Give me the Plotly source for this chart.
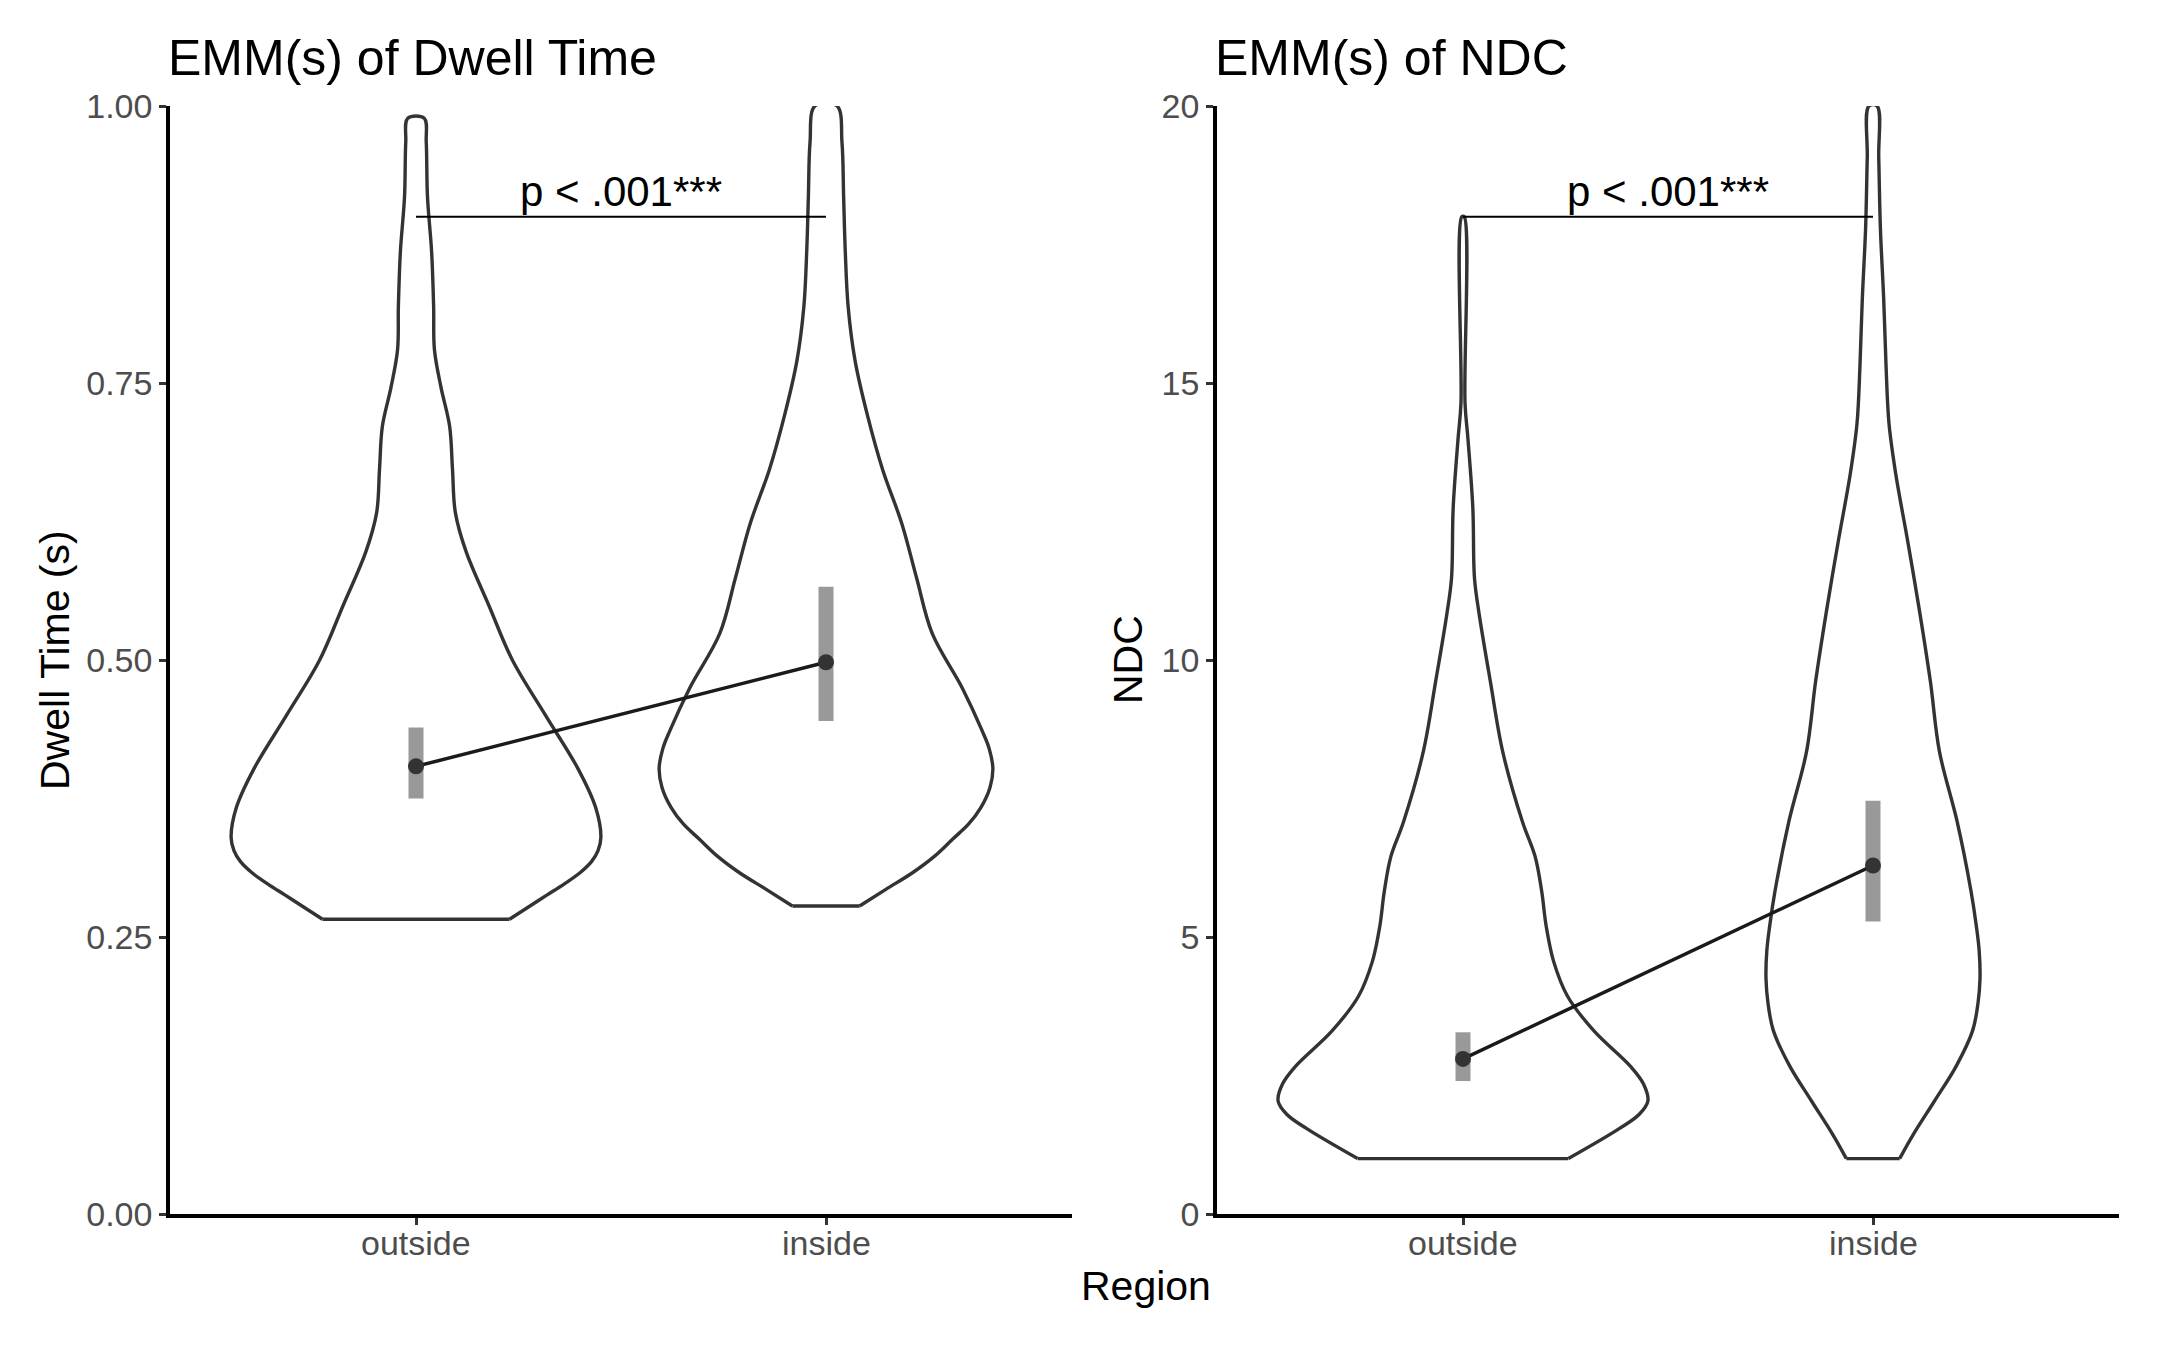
import plotly.graph_objects as go

# ---------------- data ----------------
regions = ["outside", "inside"]
region_pos = [1, 2]

# violin outlines: value levels and half-widths (x units)
dwell_out_y = [0.266, 0.278, 0.288, 0.298, 0.308, 0.318, 0.328, 0.340, 0.367, 0.402, 0.450,
               0.500, 0.549, 0.598, 0.633, 0.672, 0.711, 0.746, 0.780, 0.819, 0.869, 0.918,
               0.967, 0.989]
dwell_out_hw = [0.228, 0.278, 0.320, 0.362, 0.400, 0.428, 0.444, 0.451, 0.438, 0.395, 0.316,
                0.235, 0.178, 0.122, 0.096, 0.089, 0.082, 0.061, 0.045, 0.043, 0.038, 0.028,
                0.025, 0.020]

dwell_in_y = [0.278, 0.293, 0.308, 0.323, 0.338, 0.352, 0.367, 0.385, 0.402, 0.420, 0.436,
              0.475, 0.524, 0.574, 0.623, 0.672, 0.721, 0.770, 0.819, 0.869, 0.918, 0.967,
              1.000]
dwell_in_hw = [0.082, 0.146, 0.211, 0.265, 0.308, 0.348, 0.378, 0.400, 0.407, 0.398, 0.381,
               0.332, 0.259, 0.221, 0.185, 0.138, 0.101, 0.071, 0.054, 0.047, 0.043, 0.039,
               0.027]

ndc_out_y = [1.00, 1.54, 1.80, 2.04, 2.35, 2.67, 3.30, 3.93, 4.56, 5.19, 5.82, 6.45,
             7.08, 8.34, 9.60, 10.85, 11.48, 12.74, 14.00, 14.63, 18.00]
ndc_out_hw = [0.257, 0.381, 0.430, 0.451, 0.440, 0.408, 0.320, 0.255, 0.221, 0.203, 0.192,
              0.176, 0.145, 0.097, 0.067, 0.039, 0.028, 0.024, 0.012, 0.005, 0.003]

ndc_in_y = [1.00, 1.42, 2.04, 2.67, 3.31, 3.80, 4.25, 4.75, 5.20, 5.83, 7.09, 8.35,
            9.61, 10.86, 12.13, 13.38, 14.27, 15.27, 16.53, 17.80, 19.06, 20.00]
ndc_in_hw = [0.065, 0.097, 0.150, 0.203, 0.243, 0.256, 0.261, 0.259, 0.252, 0.239, 0.205,
             0.162, 0.140, 0.114, 0.085, 0.055, 0.039, 0.032, 0.026, 0.018, 0.014, 0.010]

# estimated marginal means with confidence limits
dwell_emm = [0.404, 0.498]
dwell_lo = [0.375, 0.445]
dwell_hi = [0.439, 0.566]

ndc_emm = [2.80, 6.29]
ndc_lo = [2.40, 5.28]
ndc_hi = [3.28, 7.46]

sig_label = "p < .001***"
dwell_sig_y = 0.90
ndc_sig_y = 18.0

dwell_ticks = [0, 0.25, 0.5, 0.75, 1.0]
dwell_ticktext = ["0.00", "0.25", "0.50", "0.75", "1.00"]
ndc_ticks = [0, 5, 10, 15, 20]
ndc_ticktext = ["0", "5", "10", "15", "20"]

titles = ["EMM(s) of Dwell Time", "EMM(s) of NDC"]
ytitles = ["Dwell Time (s)", "NDC"]
xtitle = "Region"

# ---------------- figure ----------------
PAD = 8                      # default page margin around the plot div
W, H = 2160 - 2 * PAD, 1350 - 2 * PAD
FONT = "Liberation Sans, Arial, sans-serif"
VCOL = "#333333"


def px_x(p):
    return (p - PAD) / W


def px_y(p):
    return 1 - (p - PAD) / H


fig = go.Figure()


def add_violin(center, ys, hws, xa, ya):
    left_x = [center - h for h in hws]
    right_x = [center + h for h in hws]
    xs = left_x + right_x[::-1]
    yy = ys + ys[::-1]
    fig.add_trace(go.Scatter(x=xs, y=yy, mode="lines",
                             line=dict(color=VCOL, width=3.4, shape="spline", smoothing=1.0),
                             xaxis=xa, yaxis=ya, hoverinfo="skip", showlegend=False))
    fig.add_trace(go.Scatter(x=[left_x[0], right_x[0]], y=[ys[0], ys[0]], mode="lines",
                             line=dict(color=VCOL, width=3.4),
                             xaxis=xa, yaxis=ya, hoverinfo="skip", showlegend=False))


def add_panel(xa, ya, v_out, v_in, emm, lo, hi, sig_y):
    add_violin(region_pos[0], v_out[0], v_out[1], xa, ya)
    add_violin(region_pos[1], v_in[0], v_in[1], xa, ya)
    # significance bracket
    fig.add_trace(go.Scatter(x=region_pos, y=[sig_y, sig_y], mode="lines",
                             line=dict(color="black", width=2),
                             xaxis=xa, yaxis=ya, hoverinfo="skip", showlegend=False))
    # confidence bars
    for i in range(2):
        fig.add_trace(go.Scatter(x=[region_pos[i], region_pos[i]], y=[lo[i], hi[i]], mode="lines",
                                 line=dict(color="#999999", width=15),
                                 xaxis=xa, yaxis=ya, hoverinfo="skip", showlegend=False))
    # connecting line and points
    fig.add_trace(go.Scatter(x=region_pos, y=emm, mode="lines",
                             line=dict(color="#1a1a1a", width=3.5),
                             xaxis=xa, yaxis=ya, hoverinfo="skip", showlegend=False))
    fig.add_trace(go.Scatter(x=region_pos, y=emm, mode="markers",
                             marker=dict(color="#333333", size=16, line=dict(width=0)),
                             xaxis=xa, yaxis=ya, hoverinfo="skip", showlegend=False))


add_panel("x", "y", (dwell_out_y, dwell_out_hw), (dwell_in_y, dwell_in_hw),
          dwell_emm, dwell_lo, dwell_hi, dwell_sig_y)
add_panel("x2", "y2", (ndc_out_y, ndc_out_hw), (ndc_in_y, ndc_in_hw),
          ndc_emm, ndc_lo, ndc_hi, ndc_sig_y)

# domains (from page pixel positions)
xl = [px_x(170), px_x(1072)]
xr = [px_x(1217), px_x(2119)]
yd = [px_y(1214), px_y(106)]

axis_common = dict(showline=True, linecolor="black", linewidth=3.5, showgrid=False,
                   zeroline=False, ticks="outside", ticklen=7, tickwidth=3,
                   tickcolor="#333333", automargin=False,
                   tickfont=dict(family=FONT, size=34, color="#4D4D4D"))

fig.update_layout(
    width=W, height=H, autosize=False,
    margin=dict(l=0, r=0, t=0, b=0, pad=0),
    paper_bgcolor="white", plot_bgcolor="white",
    showlegend=False,
    xaxis=dict(domain=xl, range=[0.4, 2.6], tickvals=region_pos, showticklabels=False,
               anchor="y", **axis_common),
    yaxis=dict(domain=yd, range=[0, 1], tickvals=dwell_ticks, ticktext=dwell_ticktext,
               anchor="x", **axis_common),
    xaxis2=dict(domain=xr, range=[0.4, 2.6], tickvals=region_pos, showticklabels=False,
                anchor="y2", **axis_common),
    yaxis2=dict(domain=yd, range=[0, 20], tickvals=ndc_ticks, ticktext=ndc_ticktext,
                anchor="x2", **axis_common),
)

ann = []
# category labels on the x axes
for xa in ["x", "x2"]:
    for pos, lab in zip(region_pos, regions):
        ann.append(dict(text=lab, x=pos, y=px_y(1243), xref=xa, yref="paper",
                        xanchor="center", yanchor="middle", showarrow=False,
                        font=dict(family=FONT, size=34, color="#4D4D4D")))
# panel titles
for xpos, t in zip([166, 1213], titles):
    ann.append(dict(text=t, x=px_x(xpos), y=px_y(58), xref="paper", yref="paper",
                    xanchor="left", yanchor="middle", showarrow=False,
                    font=dict(family=FONT, size=50, color="black")))
# y titles
for xpos, t in zip([55, 1128], ytitles):
    ann.append(dict(text=t, x=px_x(xpos), y=(yd[0] + yd[1]) / 2, xref="paper", yref="paper",
                    xanchor="center", yanchor="middle", textangle=-90, showarrow=False,
                    font=dict(family=FONT, size=41, color="black")))
# shared x title
ann.append(dict(text=xtitle, x=px_x(1146), y=px_y(1286), xref="paper", yref="paper",
                xanchor="center", yanchor="middle", showarrow=False,
                font=dict(family=FONT, size=41, color="black")))
# significance labels
for xa, ya, sy in [("x", "y", dwell_sig_y), ("x2", "y2", ndc_sig_y)]:
    ann.append(dict(text=sig_label, x=sum(region_pos) / 2, y=sy, xref=xa, yref=ya,
                    xanchor="center", yanchor="bottom", yshift=0, showarrow=False,
                    font=dict(family=FONT, size=42, color="black")))

fig.update_layout(annotations=ann)

fig.write_html("out.html")
